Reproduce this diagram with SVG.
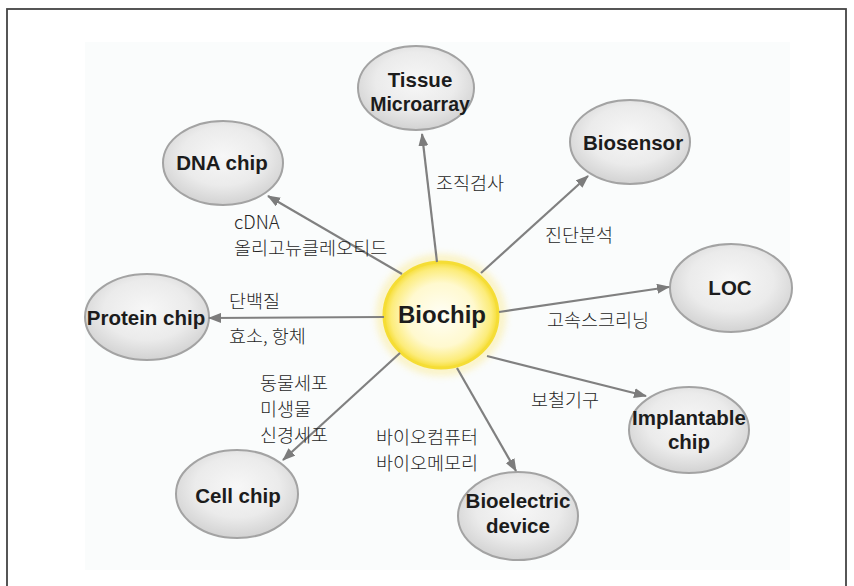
<svg xmlns="http://www.w3.org/2000/svg" width="854" height="586" viewBox="0 0 854 586">
<defs>
  <radialGradient id="g" cx="50%" cy="42%" r="58%">
    <stop offset="0" stop-color="#f7f7f7"/>
    <stop offset="0.6" stop-color="#ebebeb"/>
    <stop offset="1" stop-color="#d2d2d2"/>
  </radialGradient>
  <radialGradient id="y" cx="50%" cy="50%" r="50%">
    <stop offset="0" stop-color="#fffef6"/>
    <stop offset="0.6" stop-color="#fff9cf"/>
    <stop offset="0.88" stop-color="#fcec7a"/>
    <stop offset="1" stop-color="#f6dd33"/>
  </radialGradient>
  <filter id="glow" x="-30%" y="-30%" width="160%" height="160%">
    <feGaussianBlur stdDeviation="4"/>
  </filter>
  <marker id="ah" markerWidth="13" markerHeight="10" refX="12" refY="5" orient="auto" markerUnits="userSpaceOnUse">
    <path d="M0,0 L13,5 L0,10 z" fill="#7c7c7c"/>
  </marker>
</defs>
<style>
  .node ellipse{fill:url(#g);stroke:#a3a3a3;stroke-width:2}
  .nl{font-family:"Liberation Sans",Arial,sans-serif;font-weight:bold;font-size:20.5px;fill:#1c1c1c;text-anchor:middle}
  .lbl{font-family:"Noto Sans CJK KR","Noto Sans",sans-serif;font-weight:300;font-size:18.5px;fill:#262626}
  .conn line{stroke:#808080;stroke-width:2.2;marker-end:url(#ah)}
</style>
<rect x="0" y="0" width="854" height="586" fill="#ffffff"/>
<rect x="7" y="9" width="839" height="590" fill="none" stroke="#444" stroke-width="1.8"/>
<rect x="85" y="42" width="705" height="528" fill="#fafcfc"/>

<g id="node-tissue" class="node">
  <ellipse cx="416" cy="88" rx="58" ry="42"/>
  <text class="nl" x="420" y="87" font-size="20">Tissue</text>
  <text class="nl" x="420" y="111" style="font-size:19.5px">Microarray</text>
</g>
<g id="node-dna" class="node">
  <ellipse cx="223" cy="163" rx="60" ry="42"/>
  <text class="nl" x="222" y="170">DNA chip</text>
</g>
<g id="node-biosensor" class="node">
  <ellipse cx="630" cy="142" rx="60" ry="42"/>
  <text class="nl" x="633" y="150">Biosensor</text>
</g>
<g id="node-loc" class="node">
  <ellipse cx="731" cy="288" rx="61" ry="44"/>
  <text class="nl" x="730" y="295">LOC</text>
</g>
<g id="node-protein" class="node">
  <ellipse cx="147" cy="317" rx="62" ry="43"/>
  <text class="nl" x="146" y="325">Protein chip</text>
</g>
<g id="node-implantable" class="node">
  <ellipse cx="689" cy="430" rx="60" ry="43"/>
  <text class="nl" x="689" y="425">Implantable</text>
  <text class="nl" x="689" y="449">chip</text>
</g>
<g id="node-cell" class="node">
  <ellipse cx="237" cy="494" rx="61" ry="44"/>
  <text class="nl" x="238" y="503">Cell chip</text>
</g>
<g id="node-bioelectric" class="node">
  <ellipse cx="518" cy="516" rx="60" ry="44"/>
  <text class="nl" x="518" y="508">Bioelectric</text>
  <text class="nl" x="518" y="533">device</text>
</g>
<g id="node-biochip">
  <ellipse cx="441" cy="315" rx="60" ry="56" fill="none" stroke="#fbe98a" stroke-width="6" filter="url(#glow)" opacity="0.8"/>
  <ellipse cx="441" cy="315" rx="57" ry="53" fill="url(#y)" stroke="#f5dd35" stroke-width="3"/>
  <text class="nl" x="442" y="323" style="font-size:24px">Biochip</text>
</g>

<g id="connectors" class="conn">
  <line x1="437" y1="262" x2="422" y2="134"/>
  <line x1="402" y1="274" x2="268" y2="196"/>
  <line x1="481" y1="273" x2="588" y2="176"/>
  <line x1="499" y1="312" x2="669" y2="287"/>
  <line x1="384" y1="317" x2="209" y2="318"/>
  <line x1="487" y1="356" x2="646" y2="396"/>
  <line x1="457" y1="368" x2="516" y2="471"/>
  <line x1="400" y1="353" x2="283" y2="460"/>
</g>

<g id="labels">
  <text class="lbl" x="436" y="190">조직검사</text>
  <text class="lbl" x="234" y="229">cDNA</text>
  <text class="lbl" x="234" y="255">올리고뉴클레오티드</text>
  <text class="lbl" x="545" y="242">진단분석</text>
  <text class="lbl" x="229" y="308">단백질</text>
  <text class="lbl" x="229" y="343">효소, 항체</text>
  <text class="lbl" x="547" y="327">고속스크리닝</text>
  <text class="lbl" x="531" y="407">보철기구</text>
  <text class="lbl" x="260" y="390">동물세포</text>
  <text class="lbl" x="260" y="416">미생물</text>
  <text class="lbl" x="260" y="442">신경세포</text>
  <text class="lbl" x="376" y="444">바이오컴퓨터</text>
  <text class="lbl" x="376" y="470">바이오메모리</text>
</g>
</svg>
